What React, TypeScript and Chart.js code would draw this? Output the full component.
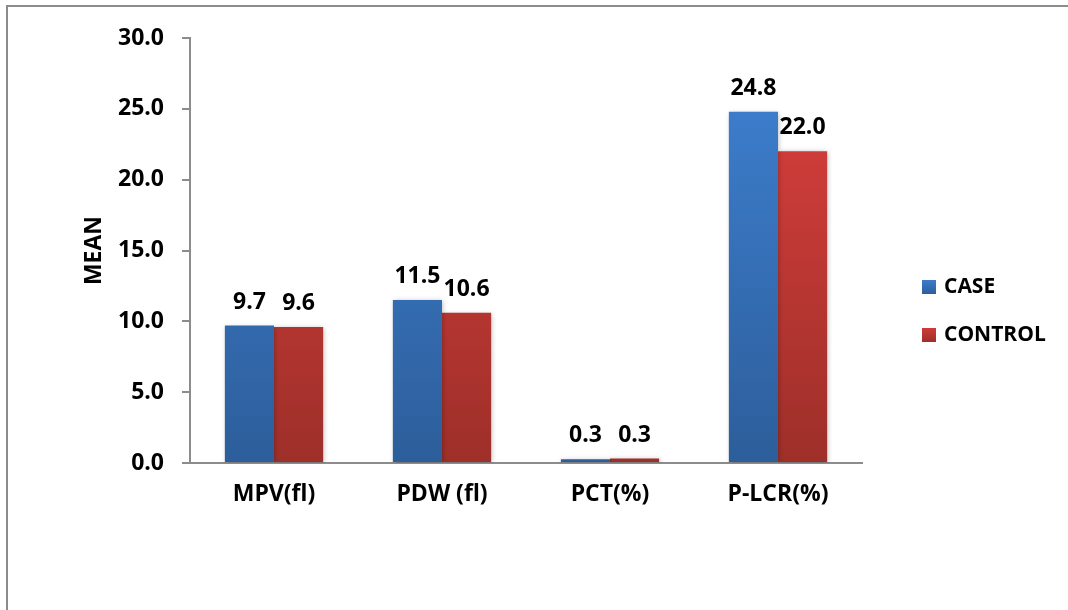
import React, { useEffect, useRef } from "react";
import { Chart, registerables } from "chart.js";

Chart.register(...registerables);

// Platelet indices: mean values per group
const categories = ["MPV(fl)", "PDW (fl)", "PCT(%)", "P-LCR(%)"];
const caseMeans = [9.7, 11.5, 0.27, 24.8];
const controlMeans = [9.6, 10.6, 0.31, 22.0];
const seriesNames = ["CASE", "CONTROL"];
const yTicks = { min: 0, max: 30, step: 5 };

const FONT = "'Open Sans', 'Liberation Sans', sans-serif";
const AXIS_GRAY = "#8c8c8c";

// Per-series vertical gradient stops (top, bottom)
const gradients: [string, string][] = [
  ["#3c7cca", "#2d5e9b"],
  ["#cd3c39", "#9e2f29"],
];

const barStylePlugin = {
  id: "barStyle",
  beforeDatasetsDraw(chart: any) {
    const ctx = chart.ctx;
    chart.data.datasets.forEach((_: any, di: number) => {
      const meta = chart.getDatasetMeta(di);
      meta.data.forEach((el: any) => {
        const g = ctx.createLinearGradient(0, el.y, 0, el.base);
        g.addColorStop(0, gradients[di][0]);
        g.addColorStop(1, gradients[di][1]);
        el.options.backgroundColor = g;
      });
    });
    ctx.save();
    ctx.shadowColor = "rgba(0,0,0,0.28)";
    ctx.shadowBlur = 5;
    ctx.shadowOffsetX = 1;
    ctx.shadowOffsetY = 1;
  },
  afterDatasetsDraw(chart: any) {
    const ctx = chart.ctx;
    ctx.restore();
    // value labels above each bar
    ctx.save();
    ctx.font = `bold 23px ${FONT}`;
    ctx.fillStyle = "#000";
    ctx.textAlign = "center";
    ctx.textBaseline = "alphabetic";
    chart.data.datasets.forEach((ds: any, di: number) => {
      const meta = chart.getDatasetMeta(di);
      meta.data.forEach((el: any, i: number) => {
        ctx.fillText(Number(ds.data[i]).toFixed(1), el.x, el.y - 17);
      });
    });
    ctx.restore();
  },
  afterDraw(chart: any) {
    const ctx = chart.ctx;
    ctx.save();
    // outer frame (top and left edges)
    ctx.strokeStyle = AXIS_GRAY;
    ctx.lineWidth = 2;
    ctx.beginPath();
    ctx.moveTo(7, chart.height);
    ctx.lineTo(7, 6);
    ctx.lineTo(chart.width, 6);
    ctx.stroke();
    // legend
    const entries = [
      { y: 287, label: seriesNames[0], di: 0 },
      { y: 335, label: seriesNames[1], di: 1 },
    ];
    ctx.font = `bold 21px ${FONT}`;
    ctx.textBaseline = "middle";
    ctx.textAlign = "left";
    entries.forEach((e) => {
      const g = ctx.createLinearGradient(0, e.y - 7, 0, e.y + 7);
      g.addColorStop(0, gradients[e.di][0]);
      g.addColorStop(1, gradients[e.di][1]);
      ctx.fillStyle = g;
      ctx.fillRect(922, e.y - 7, 14, 14);
      ctx.fillStyle = "#000";
      ctx.fillText(e.label, 944, e.y);
    });
    ctx.restore();
  },
};

export default function App() {
  const ref = useRef<HTMLCanvasElement>(null);
  useEffect(() => {
    if (!ref.current) return;
    const chart = new Chart(ref.current, {
      type: "bar",
      data: {
        labels: categories,
        datasets: [
          { label: seriesNames[0], data: caseMeans, backgroundColor: gradients[0][0] },
          { label: seriesNames[1], data: controlMeans, backgroundColor: gradients[1][0] },
        ],
      },
      options: {
        responsive: false,
        animation: false,
        layout: { padding: { left: 60, top: 38, right: 206, bottom: 87 } },
        datasets: {
          bar: { categoryPercentage: 0.585, barPercentage: 1.0, borderWidth: 0 },
        },
        plugins: {
          legend: { display: false },
          tooltip: { enabled: false },
        },
        scales: {
          x: {
            grid: { display: false, drawTicks: false },
            border: { display: true, color: AXIS_GRAY, width: 2 },
            ticks: {
              color: "#000",
              padding: 18,
              font: { family: FONT, size: 23, weight: "bold" },
            },
            afterFit(scale: any) {
              scale.height = 60;
            },
          },
          y: {
            min: yTicks.min,
            max: yTicks.max,
            ticks: {
              stepSize: yTicks.step,
              color: "#000",
              padding: 18,
              font: { family: FONT, size: 23, weight: "bold" },
              callback: (v: any) => Number(v).toFixed(1),
            },
            grid: {
              drawOnChartArea: false,
              drawTicks: true,
              tickLength: 8,
              color: AXIS_GRAY,
              lineWidth: 2,
            },
            border: { display: true, color: AXIS_GRAY, width: 2 },
            title: {
              display: true,
              text: "MEAN",
              color: "#000",
              font: { family: FONT, size: 23, weight: "bold" },
              padding: { top: 21, bottom: 0 },
            },
            afterFit(scale: any) {
              scale.width = 130;
            },
          },
        },
      },
      plugins: [barStylePlugin],
    });
    return () => chart.destroy();
  }, []);
  return (
    <div style={{ position: "fixed", left: 0, top: 0, width: 1068, height: 610, background: "#fff" }}>
      <canvas ref={ref} width={1068} height={610} />
    </div>
  );
}
